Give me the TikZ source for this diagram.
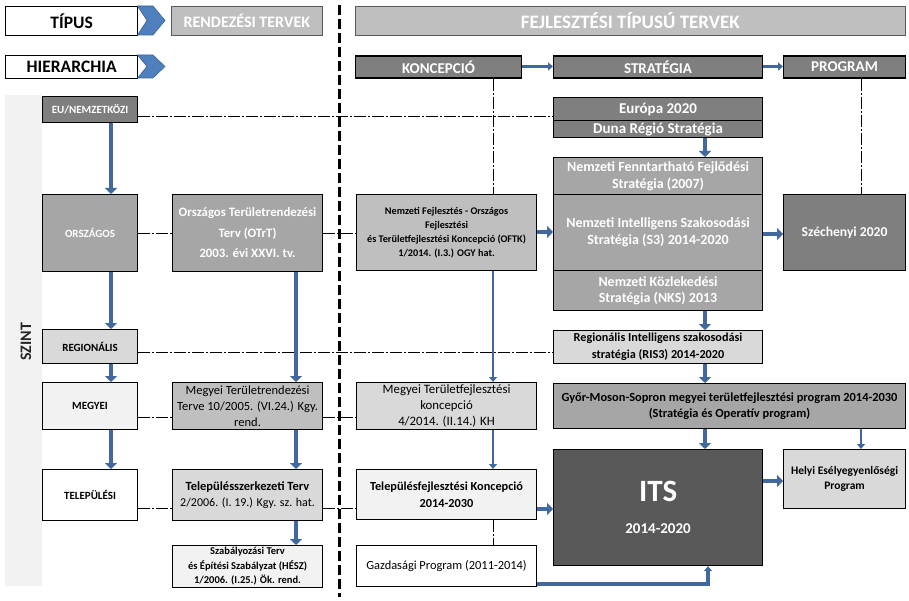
\documentclass[tikz,border=0pt]{standalone}
\usepackage{fontspec}
\setmainfont{Carlito}
\usetikzlibrary{arrows.meta}
\definecolor{blu}{HTML}{41699F}
\definecolor{chevf}{HTML}{4F7FBC}
\definecolor{chevd}{HTML}{3B6498}
\definecolor{gA}{HTML}{595959}
\definecolor{gB}{HTML}{7F7F7F}
\definecolor{gC}{HTML}{A6A6A6}
\definecolor{gD}{HTML}{BFBFBF}
\definecolor{gE}{HTML}{D9D9D9}
\definecolor{gF}{HTML}{F2F2F2}
\tikzset{
  box/.style={draw=black, line width=1.1pt, anchor=north west, align=center, inner sep=0pt, text=black},
  hdr/.style={draw=black!65, line width=0.6pt, anchor=north west, align=center, inner sep=0pt, fill=gD, text=white},
  fb/.style n args={2}{font=\fontsize{#1}{#2}\selectfont\bfseries},
  fr/.style n args={2}{font=\fontsize{#1}{#2}\selectfont},
  dd/.style={line width=1pt, dash pattern=on 12pt off 2pt on 2pt off 2pt},
  vline/.style={line width=3pt, dash pattern=on 10pt off 4pt},
  barrow/.style={draw=blu, line width=4.5pt, -{Triangle[length=6pt,width=12pt]}},
  sarrow/.style={draw=blu, line width=3.5pt, -{Triangle[length=5pt,width=8pt]}},
  tarrow/.style={draw=blu, line width=2.6pt, -{Triangle[length=5pt,width=8pt]}},
  chev/.style={fill=chevf, draw=chevd, line width=0.6pt}
}
\begin{document}
\begin{tikzpicture}[x=1pt,y=-1pt]
\useasboundingbox (0,0) rectangle (909,601);
\fill[white] (0,0) rectangle (909,601);
% band
\fill[gF] (5,95) rectangle (42,586);
\node[rotate=90, fb={16}{18}, text=black!85] (szint) at (26,342) {SZINT};

% coordinates
\coordinate (x111) at (111,0);
\coordinate (x296) at (296,0);
\coordinate (x493) at (493,0);
\coordinate (x705) at (705,0);
\coordinate (x708) at (708,0);
\coordinate (x861) at (861,0);
\coordinate (h66) at (0,66.5);
\coordinate (h116) at (0,116.5);
\coordinate (h232) at (0,232);
\coordinate (h234) at (0,234);
\coordinate (h352) at (0,352);
\coordinate (h417) at (0,417);
\coordinate (h481) at (0,481);
\coordinate (h508) at (0,508);
\coordinate (h509) at (0,509);
\coordinate (h584) at (0,584);
\coordinate (vtop) at (339,5);
\coordinate (vbot) at (339,597);

% header row
\node[box, fill=white, line width=1.2pt, minimum width=132pt, minimum height=29pt, fb={17.5}{19}] (tipus) at (5,6) {TÍPUS};
\draw[chev] (137.5,6) -- (153,6) -- (165,20.5) -- (153,35) -- (137.5,35) -- (147,20.5) -- cycle;
\node[hdr, minimum width=151pt, minimum height=29pt, fb={16}{18}] (rend) at (171,6) {RENDEZÉSI TERVEK};
\node[hdr, minimum width=550pt, minimum height=29pt, fb={19}{21}] (fejl) at (355,6) {FEJLESZTÉSI TÍPUSÚ TERVEK};

\node[box, fill=white, line width=1.2pt, minimum width=132pt, minimum height=23pt, fb={17.5}{19}] (hier) at (5,55) {HIERARCHIA};
\draw[chev] (137.5,55) -- (153,55) -- (165,66.5) -- (153,78) -- (137.5,78) -- (147,66.5) -- cycle;
\node[box, fill=gB, text=white, minimum width=166pt, minimum height=22pt, fb={15}{17}] (konc) at (355,55.5) {KONCEPCIÓ};
\node[box, fill=gB, text=white, minimum width=209pt, minimum height=22pt, fb={15}{17}] (strat) at (553,55.5) {STRATÉGIA};
\node[box, fill=gB, text=white, minimum width=122pt, minimum height=22pt, fb={15}{17}] (prog) at (783,55.5) {PROGRAM};

% left column levels
\node[box, fill=gB, text=white, minimum width=95pt, minimum height=26pt, fb={11}{13}] (eu) at (42,96) {EU/NEMZETKÖZI};
\node[box, fill=gC, text=white, minimum width=95pt, minimum height=77pt, fb={11}{13}] (orsz) at (42,194) {ORSZÁGOS};
\node[box, fill=gE, minimum width=95pt, minimum height=34pt, fb={11}{13}] (reg) at (42,329) {REGIONÁLIS};
\node[box, fill=gF, minimum width=95pt, minimum height=47pt, fb={11}{13}] (megy) at (42,382) {MEGYEI};
\node[box, fill=white, minimum width=95pt, minimum height=51pt, fb={11}{13}] (telep) at (42,469) {TELEPÜLÉSI};

% rendezesi column
\node[box, fill=gC, text=white, minimum width=150pt, minimum height=77pt, fb={12.8}{20.5}] (otrt) at (172,194) {Országos Területrendezési\\Terv (OTrT)\\2003. évi XXVI. tv.};
\node[box, fill=gD, minimum width=150pt, minimum height=47pt, fr={12.5}{16}] (mtrt) at (172,382) {Megyei Területrendezési\\Terve 10/2005. (VI.24.) Kgy.\\rend.};
\node[box, fill=gE, minimum width=150pt, minimum height=51pt, fr={12}{16.5}] (tsz) at (172,469) {{\bfseries\fontsize{12.5}{16.5}\selectfont Településszerkezeti Terv}\\2/2006. (I. 19.) Kgy. sz. hat.};
\node[box, fill=gF, minimum width=150pt, minimum height=42pt, fb={10.5}{14.5}] (szab) at (172,545) {Szabályozási Terv\\és Építési Szabályzat (HÉSZ)\\1/2006. (I.25.) Ök. rend.};

% koncepcio column
\node[box, fill=gD, minimum width=180pt, minimum height=76pt, fb={10.2}{14}] (oftk) at (356,194) {Nemzeti Fejlesztés - Országos\\Fejlesztési\\és Területfejlesztési Koncepció (OFTK)\\1/2014. (I.3.) OGY hat.};
\node[box, fill=gE, minimum width=180pt, minimum height=47pt, fr={12.8}{16}] (mtfk) at (356,382) {Megyei Területfejlesztési\\koncepció\\4/2014. (II.14.) KH};
\node[box, fill=gF, minimum width=180pt, minimum height=50pt, fb={12.3}{17}] (tfk) at (356,469) {Településfejlesztési Koncepció\\2014-2030};
\node[box, fill=white, minimum width=180pt, minimum height=41pt, fr={12.4}{14}] (gazd) at (356,545) {Gazdasági Program (2011-2014)};

% strategia column
\node[box, fill=gB, text=white, minimum width=209pt, minimum height=23pt, fb={15}{17}] (europa) at (553,97) {Európa 2020};
\node[box, fill=gB, text=white, minimum width=209pt, minimum height=17pt, fb={15}{17}] (duna) at (553,120) {Duna Régió Stratégia};
\node[box, fill=gC, text=white, minimum width=209pt, minimum height=37pt, fb={14}{16.5}] (nffs) at (553,157) {Nemzeti Fenntartható Fejlődési\\Stratégia (2007)};
\node[box, fill=gC, text=white, minimum width=209pt, minimum height=76pt, fb={14}{17}] (s3) at (553,194) {Nemzeti Intelligens Szakosodási\\Stratégia (S3) 2014-2020};
\node[box, fill=gC, text=white, minimum width=209pt, minimum height=40pt, fb={14}{16.5}] (nks) at (553,270) {Nemzeti Közlekedési\\Stratégia (NKS) 2013};
\node[box, fill=gE, minimum width=209pt, minimum height=33pt, fb={12.2}{17}] (ris) at (553,330) {Regionális Intelligens szakosodási\\stratégia (RIS3) 2014-2020};
\node[box, fill=gC, minimum width=352pt, minimum height=45pt, fb={12.4}{16}] (gyms) at (553,383) {Győr-Moson-Sopron megyei területfejlesztési program 2014-2030\\(Stratégia és Operatív program)};
\node[box, fill=gA, text=white, minimum width=209pt, minimum height=116pt, fb={15}{17}] (its) at (553,449) {{\fontsize{31}{34}\selectfont ITS}\\[15pt]2014-2020};

% program column
\node[box, fill=gB, text=white, minimum width=122pt, minimum height=76pt, fb={13.6}{15}] (szech) at (783,194) {Széchenyi 2020};
\node[box, fill=gE, minimum width=122pt, minimum height=59pt, fb={11.5}{15}] (helyi) at (783,449) {Helyi Esélyegyenlőségi\\Program};

% separator
\draw[vline] (vtop) -- (vbot);

% dash-dot connectors
\draw[dd, line width=1.6pt] (eu.east |- h116) -- (europa.west |- h116);
\draw[dd] (orsz.east |- h234) -- (otrt.west |- h234);
\draw[dd] (otrt.east |- h234) -- (oftk.west |- h234);
\draw[dd] (reg.east |- h352) -- (ris.west |- h352);
\draw[dd] (megy.east |- h417) -- (mtrt.west |- h417);
\draw[dd] (mtrt.east |- h417) -- (mtfk.west |- h417);
\draw[dd] (telep.east |- h508) -- (tsz.west |- h508);
\draw[dd] (tsz.east |- h508) -- (tfk.west |- h508);
\draw[dd, line width=0.8pt] (konc.south -| x493) -- (oftk.north -| x493);
\draw[dd, line width=0.8pt] (tfk.south -| x493) -- (gazd.north -| x493);
\draw[dd, line width=0.8pt] (prog.south -| x861) -- (szech.north -| x861);

% blue arrows
\draw[sarrow] (konc.east |- h66) -- (strat.west |- h66);
\draw[sarrow] (strat.east |- h66) -- (prog.west |- h66);

\draw[barrow] (eu.south -| x111) -- (orsz.north -| x111);
\draw[barrow] (orsz.south -| x111) -- (reg.north -| x111);
\draw[barrow] (reg.south -| x111) -- (megy.north -| x111);
\draw[barrow] (megy.south -| x111) -- (telep.north -| x111);

\draw[barrow] (otrt.south -| x296) -- (mtrt.north -| x296);
\draw[barrow] (mtrt.south -| x296) -- (tsz.north -| x296);
\draw[barrow] (tsz.south -| x296) -- (szab.north -| x296);

\draw[tarrow] (oftk.south -| x493) -- (mtfk.north -| x493);
\draw[tarrow] (mtfk.south -| x493) -- (tfk.north -| x493);

\draw[barrow] (duna.south -| x705) -- (nffs.north -| x705);
\draw[barrow] (nks.south -| x705) -- (ris.north -| x705);
\draw[barrow] (ris.south -| x705) -- (gyms.north -| x705);
\draw[barrow] (gyms.south -| x705) -- (its.north -| x705);
\draw[tarrow] (gyms.south -| x861) -- (helyi.north -| x861);

\draw[barrow] (oftk.east |- h232) -- (s3.west |- h232);
\draw[barrow] (s3.east |- h234) -- (szech.west |- h234);
\draw[barrow] (its.east |- h481) -- (helyi.west |- h481);
\draw[barrow] (tfk.east |- h509) -- (its.west |- h509);
\draw[sarrow] (gazd.east |- h584) -- (x708 |- h584) -- (its.south -| x708);
\end{tikzpicture}
\end{document}
